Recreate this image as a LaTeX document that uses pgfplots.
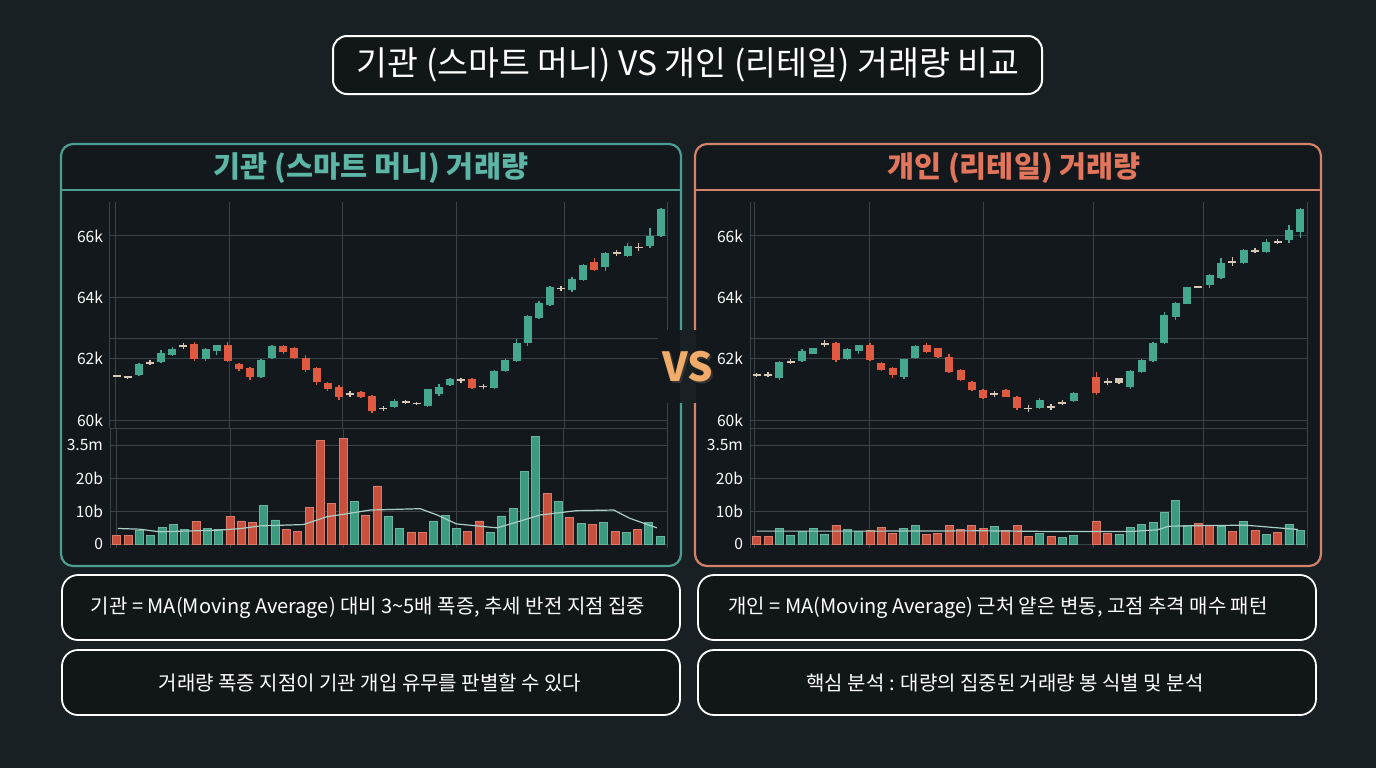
\documentclass[border=0pt]{standalone}
\usepackage{pgfplots}
\pgfplotsset{compat=1.18}
\usepackage{pgfplotstable}
\usepackage{fontspec}
\setmainfont{Noto Sans CJK KR}

\definecolor{bg}{HTML}{182023}
\definecolor{panel}{HTML}{12181B}
\definecolor{tbox}{HTML}{111618}
\definecolor{gridc}{HTML}{3A4346}
\definecolor{cup}{HTML}{45A88E}
\definecolor{cdn}{HTML}{E05A42}
\definecolor{cdoji}{HTML}{D6C8B4}
\definecolor{vup}{HTML}{3B9A80}
\definecolor{vdn}{HTML}{C9503D}
\definecolor{tealB}{HTML}{4C9E93}
\definecolor{tealT}{HTML}{5DB5A6}
\definecolor{salB}{HTML}{D4826C}
\definecolor{salT}{HTML}{E2765C}
\definecolor{vsc}{HTML}{F0AC68}
\definecolor{mac}{HTML}{A9CFC6}

% ---------- data ----------
\pgfplotstableread{
x o h l c d
0 61450 61480 61400 61430 0
1 61420 61450 61330 61380 0
2 61470 61870 61420 61830 1
3 61860 61950 61800 61880 0
4 61900 62290 61850 62200 1
5 62120 62380 62080 62320 1
6 62400 62520 62330 62420 0
7 62480 62560 61930 61980 -1
8 62000 62340 61930 62310 1
9 62260 62460 62120 62440 1
10 62440 62560 61880 61930 -1
11 61830 61870 61600 61650 -1
12 61690 61720 61320 61410 -1
13 61410 62000 61380 61960 1
14 62010 62440 61980 62420 1
15 62410 62440 62150 62230 -1
16 62340 62380 61980 62010 -1
17 62030 62120 61560 61630 -1
18 61700 61740 61140 61250 -1
19 61200 61240 60960 61000 -1
20 61090 61130 60640 60740 -1
21 60840 60940 60760 60860 0
22 60920 60960 60720 60760 -1
23 60770 60800 60230 60300 -1
24 60370 60470 60290 60390 0
25 60410 60680 60380 60620 1
26 60580 60660 60520 60600 0
27 60550 60590 60490 60530 0
28 60460 61020 60430 61000 1
29 60850 61180 60780 61070 1
30 61140 61370 61100 61330 1
31 61290 61380 61220 61310 0
32 61330 61360 61000 61030 -1
33 61090 61180 61020 61110 0
34 61050 61640 61020 61600 1
35 61600 61990 61580 61960 1
36 61930 62640 61900 62500 1
37 62520 63420 62400 63390 1
38 63340 63880 63300 63800 1
39 63750 64360 63720 64330 1
40 64280 64380 64200 64300 0
41 64240 64660 64170 64600 1
42 64560 65100 64540 65050 1
43 65160 65280 64870 64890 -1
44 64980 65480 64860 65450 1
45 65440 65540 65360 65460 0
46 65350 65760 65300 65670 1
47 65620 65760 65520 65640 0
48 65670 66250 65620 66000 1
49 66000 66910 65960 66870 1
}\candL

\pgfplotstableread{
x v d
0 2.7 -1
1 2.5 -1
2 4.2 1
3 2.7 1
4 4.9 1
5 6.0 1
6 4.5 1
7 6.9 -1
8 4.7 1
9 4.4 1
10 8.4 -1
11 7.0 -1
12 6.6 -1
13 11.7 1
14 7.3 1
15 4.5 -1
16 3.7 -1
17 11.1 -1
18 31.3 -1
19 12.3 -1
20 32.0 -1
21 12.9 1
22 8.8 -1
23 17.6 -1
24 8.3 1
25 4.6 1
26 3.5 -1
27 3.4 -1
28 7.0 1
29 8.7 1
30 4.7 1
31 3.7 -1
32 7.0 -1
33 3.5 1
34 8.5 1
35 10.9 1
36 22.0 1
37 32.7 1
38 15.4 -1
39 12.8 1
40 8.1 -1
41 6.3 1
42 6.0 -1
43 6.5 1
44 3.7 -1
45 3.4 1
46 4.4 -1
47 6.6 1
48 2.2 1
}\volL

\pgfplotstableread{
x o h l c d
0 61460 61520 61400 61480 0
1 61470 61560 61390 61460 0
2 61360 61940 61300 61900 1
3 61890 61990 61820 61910 0
4 61930 62300 61900 62260 1
5 62170 62360 62150 62340 1
6 62470 62600 62380 62490 0
7 62500 62560 61880 61960 -1
8 61980 62360 61960 62310 1
9 62260 62460 62140 62440 1
10 62440 62520 61920 61950 -1
11 61850 61880 61600 61630 -1
12 61690 61720 61380 61470 -1
13 61410 62000 61330 61980 1
14 62010 62440 61990 62420 1
15 62440 62520 62200 62230 -1
16 62340 62360 62020 62060 -1
17 62060 62140 61530 61570 -1
18 61630 61660 61260 61300 -1
19 61250 61280 60950 60980 -1
20 60980 61000 60680 60710 -1
21 60840 60940 60760 60860 0
22 60980 61010 60740 60760 -1
23 60760 60790 60320 60380 -1
24 60370 60500 60260 60390 0
25 60380 60720 60360 60670 1
26 60420 60530 60330 60440 0
27 60550 60640 60480 60570 0
28 60630 60920 60610 60870 1
30 61410 61560 60820 60870 -1
31 61240 61360 61140 61260 0
32 61220 61380 61200 61360 0
33 61090 61640 61020 61600 1
34 61570 61990 61530 61960 1
35 61930 62530 61900 62520 1
36 62520 63530 62480 63420 1
37 63370 63840 63250 63820 1
38 63800 64350 63780 64330 1
39 64340 64380 64320 64360 0
40 64400 64760 64290 64730 1
41 64620 65280 64600 65130 1
42 65150 65300 65020 65170 0
43 65130 65580 65100 65560 1
44 65510 65620 65440 65530 0
45 65490 65900 65450 65810 1
46 65800 65900 65730 65820 0
47 65870 66350 65780 66190 1
48 66140 66900 65950 66870 1
}\candR

\pgfplotstableread{
x v d
0 2.4 -1
1 2.4 -1
2 4.7 1
3 2.5 1
4 3.9 1
5 4.6 1
6 2.9 1
7 5.7 -1
8 4.4 1
9 3.9 1
10 4.2 -1
11 5.0 -1
12 3.2 -1
13 4.6 1
14 5.5 1
15 3.0 -1
16 3.2 -1
17 5.7 -1
18 4.4 -1
19 5.5 -1
20 4.6 -1
21 5.2 1
22 4.0 -1
23 5.5 -1
24 2.4 -1
25 3.2 1
26 2.3 -1
27 2.0 1
28 2.7 1
30 7.0 -1
31 3.2 -1
32 3.0 1
33 5.0 1
34 5.8 1
35 6.5 1
36 9.7 1
37 13.3 1
38 5.5 1
39 6.3 -1
40 5.5 -1
41 5.2 1
42 3.9 -1
43 6.8 1
44 4.0 -1
45 3.0 1
46 3.5 -1
47 6.0 1
48 4.2 1
}\volR

\pgfplotsset{
  panelaxis/.style={scale only axis, width=278.5pt,
    axis line style={draw=none}, major tick length=0pt,
    xmajorgrids, ymajorgrids, grid style={draw=gridc, line width=0.5pt},
    xticklabel=\empty, scaled y ticks=false, scaled x ticks=false,
    yticklabel style={font=\fontsize{7.8}{9}\selectfont, text=white},
    clip=false},
  wick/.style={draw=none, forget plot, error bars/y dir=both, error bars/y explicit,
    error bars/error mark=none, error bars/error bar style={draw=#1, line width=0.7pt}},
  body/.style={draw=none, forget plot, error bars/y dir=both, error bars/y explicit,
    error bars/error mark=none, error bars/error bar style={draw=#1, line width=4pt}},
  pricestyle/.style={panelaxis, height=113pt, anchor=south west,
    ymin=59740, ymax=67107,
    ytick={59740,60000,62000,62673,64000,66000},
    yticklabels={,60k,62k,,64k,66k}},
  volstyle/.style={panelaxis, height=60pt, anchor=north west,
    ymin=-1.21, ymax=35.15,
    ytick={0,10,20,30}, yticklabels={0,10b,20b,3.5m}},
}

\newcommand{\candles}[1]{%
  \addplot[restrict expr to domain={\thisrow{d}}{0.5:1.5}, wick=cup] table[x=x, y=o, y error plus expr={\thisrow{h}-\thisrow{o}}, y error minus expr={\thisrow{o}-\thisrow{l}}] {#1};
  \addplot[restrict expr to domain={\thisrow{d}}{-1.5:-0.5}, wick=cdn] table[x=x, y=o, y error plus expr={\thisrow{h}-\thisrow{o}}, y error minus expr={\thisrow{o}-\thisrow{l}}] {#1};
  \addplot[restrict expr to domain={\thisrow{d}}{-0.5:0.5}, wick=cdoji] table[x=x, y=o, y error plus expr={\thisrow{h}-\thisrow{o}}, y error minus expr={\thisrow{o}-\thisrow{l}}] {#1};
  \addplot[restrict expr to domain={\thisrow{d}}{0.5:1.5}, body=cup] table[x=x, y expr={(\thisrow{o}+\thisrow{c})/2}, y error expr={max(abs(\thisrow{c}-\thisrow{o})/2,25)}] {#1};
  \addplot[restrict expr to domain={\thisrow{d}}{-1.5:-0.5}, body=cdn] table[x=x, y expr={(\thisrow{o}+\thisrow{c})/2}, y error expr={max(abs(\thisrow{c}-\thisrow{o})/2,25)}] {#1};
  \addplot[restrict expr to domain={\thisrow{d}}{-0.5:0.5}, body=cdoji] table[x=x, y expr={(\thisrow{o}+\thisrow{c})/2}, y error expr={max(abs(\thisrow{c}-\thisrow{o})/2,25)}] {#1};
}
\newcommand{\volbars}[1]{%
  \addplot[ybar, bar width=4pt, bar shift=0pt, fill=vup, draw=vup!75!white, line width=0.4pt, restrict expr to domain={\thisrow{d}}{0.5:1.5}] table[x=x, y=v] {#1};
  \addplot[ybar, bar width=4pt, bar shift=0pt, fill=vdn, draw=vdn!75!white, line width=0.4pt, restrict expr to domain={\thisrow{d}}{-1.5:-0.5}] table[x=x, y=v] {#1};
}

\begin{document}
\begin{tikzpicture}
\begin{scope}[x=0.5pt, y=-0.5pt]
  \fill[bg] (0,0) rectangle (1376,768);
  % title
  \draw[white, line width=1pt, fill=tbox, rounded corners=7pt] (333,36) rectangle (1042,94);
  \node[text=white, font=\fontsize{16.8}{19}\selectfont] at (688,65) {기관 (스마트 머니) VS 개인 (리테일) 거래량 비교};
  % panels
  \draw[tealB, line width=1.1pt, fill=panel, rounded corners=6pt] (61,144) rectangle (681,566);
  \draw[tealB, line width=0.8pt] (61,190) -- (681,190);
  \node[text=tealT, font=\fontsize{14.7}{17}\selectfont\bfseries] at (371,168) {기관 (스마트 머니) 거래량};
  \draw[salB, line width=1.1pt, fill=panel, rounded corners=6pt] (695,144) rectangle (1321,566);
  \draw[salB, line width=0.8pt] (695,190) -- (1321,190);
  \node[text=salT, font=\fontsize{14.7}{17}\selectfont\bfseries] at (1014,168) {개인 (리테일) 거래량};
  % text boxes
  \draw[white, line width=0.9pt, fill=tbox, rounded corners=8pt] (62,575) rectangle (680,640);
  \draw[white, line width=0.9pt, fill=tbox, rounded corners=8pt] (62,650) rectangle (680,715);
  \draw[white, line width=0.9pt, fill=tbox, rounded corners=8pt] (698,575) rectangle (1316,640);
  \draw[white, line width=0.9pt, fill=tbox, rounded corners=8pt] (698,650) rectangle (1316,715);
  \node[text=white, font=\fontsize{10}{12}\selectfont] at (368,608) {기관 = MA(Moving Average) 대비 3\textasciitilde 5배 폭증, 추세 반전 지점 집중};
  \node[text=white, font=\fontsize{10}{12}\selectfont] at (370,683) {거래량 폭증 지점이 기관 개입 유무를 판별할 수 있다};
  \node[text=white, font=\fontsize{10}{12}\selectfont] at (998,608) {개인 = MA(Moving Average) 근처 얕은 변동, 고점 추격 매수 패턴};
  \node[text=white, font=\fontsize{10}{12}\selectfont] at (1005,683) {핵심 분석 : 대량의 집중된 거래량 봉 식별 및 분석};
\end{scope}

% ---------- left charts ----------
\begin{axis}[pricestyle, at={(55pt,-214pt)}, xmin=-0.60, xmax=49.54,
  xtick={-0.60,-0.06,10.2,20.37,30.55,40.27,49.54}]
  \candles{\candL}
\end{axis}
\begin{axis}[volstyle, at={(55pt,-214pt)}, xmin=-0.59, xmax=48.6,
  xtick={-0.59,-0.06,10.01,20.0,29.97,39.5,48.6}]
  \volbars{\volL}
  \addplot[mac, line width=0.6pt] coordinates {(0.1,4.7) (2,4.5) (3.8,3.7) (9,4.2) (11,4.7) (12.7,5.5) (16.5,5.9) (18.6,8.3) (20,9.0) (22.4,10.3) (26.8,10.7) (28.3,8.8) (30,6.1) (33.6,4.9) (34.7,6.0) (37.4,8.8) (40.6,10.1) (43.9,10.3) (45.3,7.8) (47.7,4.9)};
\end{axis}

% ---------- right charts ----------
\begin{axis}[pricestyle, at={(375pt,-214pt)}, xmin=-0.59, xmax=48.6,
  xtick={-0.59,-0.15,9.92,19.99,29.77,39.49,48.6}]
  \candles{\candR}
\end{axis}
\begin{axis}[volstyle, at={(375pt,-214pt)}, xmin=-0.59, xmax=48.6,
  xtick={-0.59,-0.15,9.92,19.99,29.77,39.49,48.6}]
  \volbars{\volR}
  \addplot[mac, line width=0.6pt] coordinates {(0,3.9) (10,3.9) (20,4.0) (26,3.8) (33,3.8) (35.4,4.3) (36.4,5.4) (40,5.6) (43.2,5.7) (47.8,4.4)};
\end{axis}

\begin{scope}[x=0.5pt, y=-0.5pt]
  \fill[panel] (658,330) rectangle (680,403);
  \fill[bg] (680,330) rectangle (696,403);
  \fill[panel] (696,330) rectangle (714,403);
  \node[text=black!80, font=\fontsize{20}{24}\selectfont\bfseries] at (689.5,368.5) {VS};
  \node[text=vsc, font=\fontsize{20}{24}\selectfont\bfseries] at (688,367) {VS};
\end{scope}
\end{tikzpicture}
\end{document}
